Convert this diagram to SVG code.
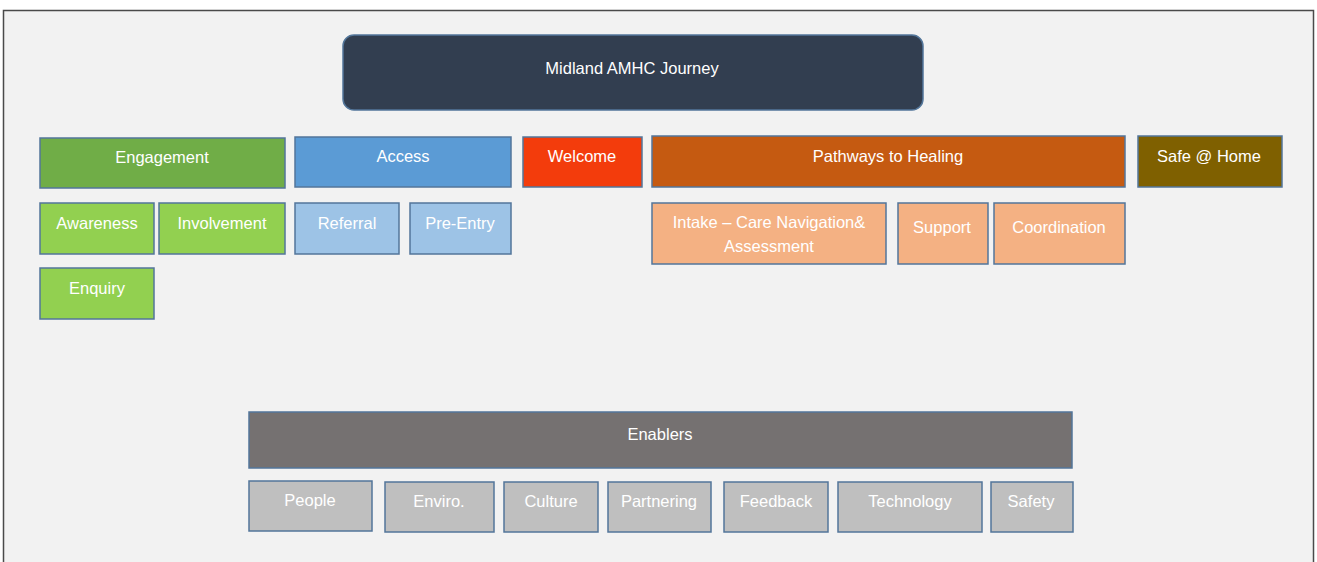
<svg xmlns="http://www.w3.org/2000/svg" width="1317" height="562" viewBox="0 0 1317 562">
  <style>
    .box { stroke: #53769A; stroke-width: 1.5; }
    .lbl { font-family: "Liberation Sans", Arial, sans-serif; font-size: 16.5px; fill: #FFFFFF; text-anchor: middle; dominant-baseline: central; }
    .eng { fill: #70AD47; }
    .acc { fill: #5B9BD5; }
    .wel { fill: #F33C0C; }
    .pth { fill: #C55A11; }
    .saf { fill: #7F6000; }
    .engs { fill: #92D050; }
    .accs { fill: #9DC3E6; }
    .pths { fill: #F4B183; }
    .enb { fill: #757171; }
    .enbs { fill: #BFBFBF; }
  </style>

  <!-- page -->
  <rect x="0" y="0" width="1317" height="562" fill="#FFFFFF"/>
  <rect x="3.5" y="10.5" width="1310" height="560" fill="#F2F2F2" stroke="#4A4A4A" stroke-width="1.5"/>

  <g id="title">
    <rect x="343" y="35" width="580" height="75" rx="11" fill="#323E50" stroke="#53769A" stroke-width="1.5"/>
    <text class="lbl" x="632" y="68">Midland AMHC Journey</text>
  </g>

  <!-- stages -->
  <g id="engagement">
    <rect class="box eng" x="40" y="138" width="245" height="50"/>
    <text class="lbl" x="162" y="157">Engagement</text>
  </g>
  <g id="access">
    <rect class="box acc" x="295" y="137" width="216" height="50"/>
    <text class="lbl" x="403" y="156">Access</text>
  </g>
  <g id="welcome">
    <rect class="box wel" x="523" y="137" width="119" height="50"/>
    <text class="lbl" x="582" y="156">Welcome</text>
  </g>
  <g id="pathways">
    <rect class="box pth" x="652" y="136" width="473" height="51"/>
    <text class="lbl" x="888" y="156">Pathways to Healing</text>
  </g>
  <g id="safe-home">
    <rect class="box saf" x="1138" y="136" width="144" height="51"/>
    <text class="lbl" x="1209" y="156">Safe @ Home</text>
  </g>

  <!-- engagement steps -->
  <g id="awareness">
    <rect class="box engs" x="40" y="203" width="114" height="51"/>
    <text class="lbl" x="97" y="223">Awareness</text>
  </g>
  <g id="involvement">
    <rect class="box engs" x="159" y="203" width="126" height="51"/>
    <text class="lbl" x="222" y="223">Involvement</text>
  </g>
  <g id="enquiry">
    <rect class="box engs" x="40" y="268" width="114" height="51"/>
    <text class="lbl" x="97" y="288">Enquiry</text>
  </g>

  <!-- access steps -->
  <g id="referral">
    <rect class="box accs" x="295" y="203" width="104" height="51"/>
    <text class="lbl" x="347" y="223">Referral</text>
  </g>
  <g id="pre-entry">
    <rect class="box accs" x="410" y="203" width="101" height="51"/>
    <text class="lbl" x="460" y="223">Pre-Entry</text>
  </g>

  <!-- pathway steps -->
  <g id="intake">
    <rect class="box pths" x="652" y="203" width="234" height="61"/>
    <text class="lbl" x="769" y="222">Intake – Care Navigation&amp;</text>
    <text class="lbl" x="769" y="246">Assessment</text>
  </g>
  <g id="support">
    <rect class="box pths" x="898" y="203" width="90" height="61"/>
    <text class="lbl" x="942" y="227">Support</text>
  </g>
  <g id="coordination">
    <rect class="box pths" x="994" y="203" width="131" height="61"/>
    <text class="lbl" x="1059" y="227">Coordination</text>
  </g>

  <!-- enablers -->
  <g id="enablers">
    <rect class="box enb" x="249" y="412" width="823" height="56"/>
    <text class="lbl" x="660" y="434">Enablers</text>
  </g>
  <g id="people">
    <rect class="box enbs" x="249" y="481" width="123" height="50"/>
    <text class="lbl" x="310" y="500">People</text>
  </g>
  <g id="enviro">
    <rect class="box enbs" x="385" y="482" width="109" height="50"/>
    <text class="lbl" x="439" y="501">Enviro.</text>
  </g>
  <g id="culture">
    <rect class="box enbs" x="504" y="482" width="94" height="50"/>
    <text class="lbl" x="551" y="501">Culture</text>
  </g>
  <g id="partnering">
    <rect class="box enbs" x="608" y="482" width="103" height="50"/>
    <text class="lbl" x="659" y="501">Partnering</text>
  </g>
  <g id="feedback">
    <rect class="box enbs" x="724" y="482" width="104" height="50"/>
    <text class="lbl" x="776" y="501">Feedback</text>
  </g>
  <g id="technology">
    <rect class="box enbs" x="838" y="482" width="144" height="50"/>
    <text class="lbl" x="910" y="501">Technology</text>
  </g>
  <g id="safety">
    <rect class="box enbs" x="991" y="482" width="82" height="50"/>
    <text class="lbl" x="1031" y="501">Safety</text>
  </g>

  <g id="connectors"></g>
</svg>
